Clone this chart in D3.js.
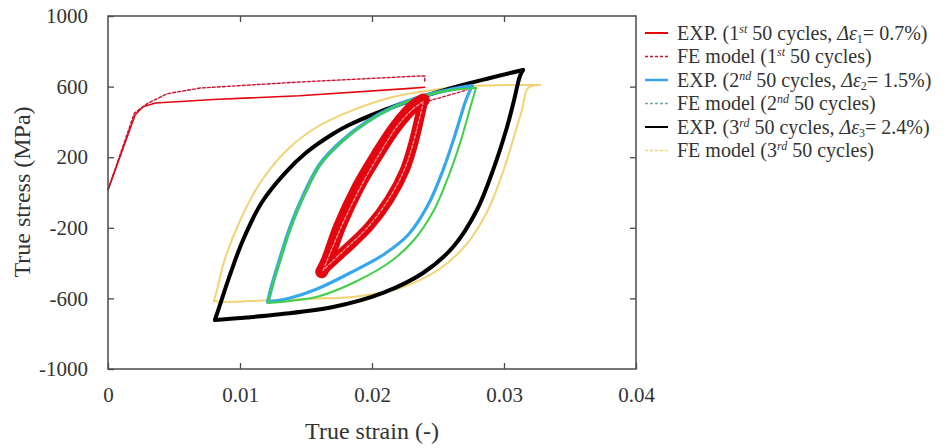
<!DOCTYPE html>
<html><head><meta charset="utf-8">
<script src="https://cdn.jsdelivr.net/npm/d3@7"></script>
<style>
body{margin:0;background:#fff}
svg{display:block}
</style>
</head><body>
<svg id="c" width="950" height="448"></svg>
<script>
// ---------- data ----------
const xTicks = [0, 0.01, 0.02, 0.03, 0.04];
const xTickLabels = ["0", "0.01", "0.02", "0.03", "0.04"];
const yTicks = [1000, 600, 200, -200, -600, -1000];
const yTickLabels = ["1000", "600", "200", "-200", "-600", "-1000"];

// EXP 1st 50 cycles (monotonic + loop branches) [strain, stress MPa]
const exp1Mono = [[0,15],[0.00205,439],[0.00265,486],[0.0036,507],[0.008,527],[0.0145,548],[0.0229,590],[0.0240,596]];
const exp1Up = [[0.01619,-449],[0.01663,-382],[0.01754,-194],[0.01896,33],[0.0203,203],[0.0218,373],[0.02313,486],[0.02389,524]];
const exp1Down = [[0.02389,524],[0.02313,279],[0.02248,127],[0.02129,-42],[0.01977,-194],[0.0177,-344],[0.01631,-439],[0.01619,-449]];
// FE 1st 50 cycles
const fe1Mono = [[0,15],[0.0020,450],[0.0030,505],[0.0045,560],[0.007,592],[0.0145,626],[0.0236,660],[0.0240,660],[0.0240,620]];
const fe1Up = [[0.0163,-440],[0.0177,-190],[0.0192,40],[0.0205,210],[0.0219,375],[0.0232,480],[0.0239,515]];
const fe1Down = [[0.0239,515],[0.0231,275],[0.0224,120],[0.0212,-45],[0.0197,-195],[0.0177,-340],[0.0163,-440]];
const fe1Link = [[0.0239,510],[0.0272,581]];
// EXP 2nd 50 cycles
const exp2Up = [[0.01212,-620],[0.01245,-520],[0.0131,-360],[0.0137,-220],[0.01455,-60],[0.01606,160],[0.0177,290],[0.0196,400],[0.0215,480],[0.0238,545],[0.0259,582],[0.02758,603]];
const exp2Down = [[0.02758,603],[0.02712,524],[0.02629,326],[0.02538,127],[0.02424,-71],[0.02273,-241],[0.02083,-354],[0.01833,-456],[0.01583,-547],[0.01379,-598],[0.01212,-620]];
// FE 2nd 50 cycles
const fe2Up = [[0.01212,-626],[0.01248,-520],[0.01313,-360],[0.01373,-220],[0.01458,-60],[0.0161,160],[0.01775,290],[0.01965,400],[0.02155,480],[0.02385,545],[0.02595,580],[0.02788,592]];
const fe2Down = [[0.02788,592],[0.0275,496],[0.02674,297],[0.02583,99],[0.0247,-99],[0.02318,-269],[0.02136,-394],[0.01871,-507],[0.01606,-586],[0.01379,-615],[0.01212,-626]];
// EXP 3rd 50 cycles
const exp3Up = [[0.0081,-722],[0.00848,-637],[0.00924,-467],[0.01023,-269],[0.01167,-54],[0.01341,110],[0.0150,225],[0.0170,330],[0.01833,385],[0.02212,500],[0.02591,590],[0.02894,649],[0.03144,694]];
const exp3Down = [[0.03144,694],[0.03121,660],[0.03075,520],[0.03023,371],[0.02917,127],[0.02795,-99],[0.02614,-309],[0.02386,-456],[0.02083,-569],[0.01705,-649],[0.01303,-690],[0.01053,-708],[0.0081,-722]];
// FE 3rd 50 cycles
const fe3Up = [[0.00803,-615],[0.0083,-540],[0.0088,-390],[0.0100,-160],[0.01152,54],[0.01356,241],[0.01583,371],[0.01856,467],[0.02159,541],[0.02462,581],[0.02742,603],[0.03273,609]];
const fe3Down = [[0.03273,609],[0.03182,592],[0.03136,467],[0.03068,297],[0.02992,116],[0.02879,-99],[0.02712,-297],[0.025,-439],[0.02212,-541],[0.01871,-590],[0.01553,-602],[0.01205,-611],[0.00848,-620],[0.00803,-615]];

const legendLabels = [
  [["EXP. (1"],["st","sup"],[" 50 cycles, "],["Δε","it"],["1","sub"],["= 0.7%)"]],
  [["FE model (1"],["st","sup"],[" 50 cycles)"]],
  [["EXP. (2"],["nd","sup"],[" 50 cycles, "],["Δε","it"],["2","sub"],["= 1.5%)"]],
  [["FE model (2"],["nd","sup"],[" 50 cycles)"]],
  [["EXP. (3"],["rd","sup"],[" 50 cycles, "],["Δε","it"],["3","sub"],["= 2.4%)"]],
  [["FE model (3"],["rd","sup"],[" 50 cycles)"]]
];

// ---------- chart ----------
const FONT = '"Liberation Serif", Tinos, "Times New Roman", Times, "DejaVu Serif", serif';
const svg = d3.select("#c");
const x = d3.scaleLinear().domain([0, 0.04]).range([108, 636]);
const y = d3.scaleLinear().domain([-1000, 1000]).range([369, 16]);

const C = {
  exp1: "#e3060e", fe1: "#c8102e",
  exp2: "#36a6ee", fe2: "#3fcf47",
  exp3: "#000000", fe3: "#f2d272"
};

const line = d3.line().x(d => x(d[0])).y(d => y(d[1])).curve(d3.curveCatmullRom.alpha(0.5));
const lineLin = d3.line().x(d => x(d[0])).y(d => y(d[1]));

const plot = svg.append("g");
function draw(data, color, w, dash, gen) {
  plot.append("path").attr("d", (gen || line)(data)).attr("fill", "none")
    .attr("stroke", color).attr("stroke-width", w)
    .attr("stroke-linejoin", "round").attr("stroke-linecap", "round")
    .attr("stroke-dasharray", dash || null);
}

// 3rd
draw(fe3Up, C.fe3, 2);
draw(fe3Down, C.fe3, 2);
draw(exp3Up, C.exp3, 4);
draw(exp3Down, C.exp3, 4);
// 2nd
draw(exp2Up, C.exp2, 4);
draw(exp2Down, C.exp2, 3.2);
draw(fe2Up, C.fe2, 2.2);
draw(fe2Down, C.fe2, 2);
// 1st
draw(exp1Mono, C.exp1, 1.6, null, lineLin);
draw(fe1Mono, C.fe1, 1.4, "3,2", lineLin);
draw(exp1Up, C.exp1, 13);
draw(exp1Down, C.exp1, 10);
draw(fe1Up, "#f7a0a8", 1.2, "3,2");
draw(fe1Down, "#f7a0a8", 1.2, "3,2");
draw(fe1Link, C.fe1, 1.3, "3,2", lineLin);

// frame
svg.append("rect").attr("x", 108).attr("y", 16).attr("width", 528).attr("height", 353)
  .attr("fill", "none").attr("stroke", "#4a4a4a").attr("stroke-width", 1.5);

// axes
const axL = svg.append("g").attr("transform", "translate(108,0)")
  .call(d3.axisLeft(y).tickValues(yTicks).tickFormat((d, i) => yTickLabels[i]).tickSize(-6).tickPadding(20));
const axR = svg.append("g").attr("transform", "translate(636,0)")
  .call(d3.axisRight(y).tickValues(yTicks.slice(1, -1)).tickFormat("").tickSize(-6));
const axB = svg.append("g").attr("transform", "translate(0,369)")
  .call(d3.axisBottom(x).tickValues(xTicks).tickFormat((d, i) => xTickLabels[i]).tickSize(-6).tickPadding(18));
const axT = svg.append("g").attr("transform", "translate(0,16)")
  .call(d3.axisTop(x).tickValues(xTicks.slice(1, -1)).tickFormat("").tickSize(-6));
[axL, axR, axB, axT].forEach(a => {
  a.attr("font-family", FONT).attr("font-size", 21);
  a.select(".domain").remove();
  a.selectAll(".tick line").attr("stroke", "#4a4a4a").attr("stroke-width", 1.3);
  a.selectAll(".tick text").attr("fill", "#333").attr("font-family", FONT).attr("font-size", 21);
});

// axis titles
svg.append("text").attr("x", 372).attr("y", 439).attr("text-anchor", "middle")
  .attr("font-family", FONT).attr("font-size", 24).attr("fill", "#333").text("True strain (-)");
svg.append("text").attr("transform", "translate(30,192) rotate(-90)").attr("text-anchor", "middle")
  .attr("font-family", FONT).attr("font-size", 24).attr("fill", "#333").text("True stress (MPa)");

// legend
const legendSeries = [
  {c: C.exp1, w: 2, dash: null},
  {c: C.fe1, w: 1.5, dash: "3,2"},
  {c: C.exp2, w: 2.5, dash: null},
  {c: "#6aa8a8", w: 1.5, dash: "3,2"},
  {c: C.exp3, w: 2, dash: null},
  {c: C.fe3, w: 1.5, dash: "3,2"}
];
const lg = svg.append("g");
legendLabels.forEach((parts, i) => {
  const yy = 33 + i * 23.5;
  const s = legendSeries[i];
  lg.append("line").attr("x1", 645).attr("x2", 668).attr("y1", yy).attr("y2", yy)
    .attr("stroke", s.c).attr("stroke-width", s.w).attr("stroke-dasharray", s.dash);
  const t = lg.append("text").attr("x", 677).attr("y", yy + 6.5)
    .attr("font-family", FONT).attr("font-size", 20).attr("fill", "#333");
  let shift = 0;
  parts.forEach(p => {
    const ts = t.append("tspan").text(p[0]);
    let target = 0;
    if (p[1] === "sup") { target = -7; ts.attr("font-size", 12).attr("font-style", "italic"); }
    else if (p[1] === "sub") { target = 3; ts.attr("font-size", 12); }
    else if (p[1] === "it") { ts.attr("font-style", "italic"); }
    ts.attr("dy", target - shift);
    shift = target;
  });
});
</script>
</body></html>
